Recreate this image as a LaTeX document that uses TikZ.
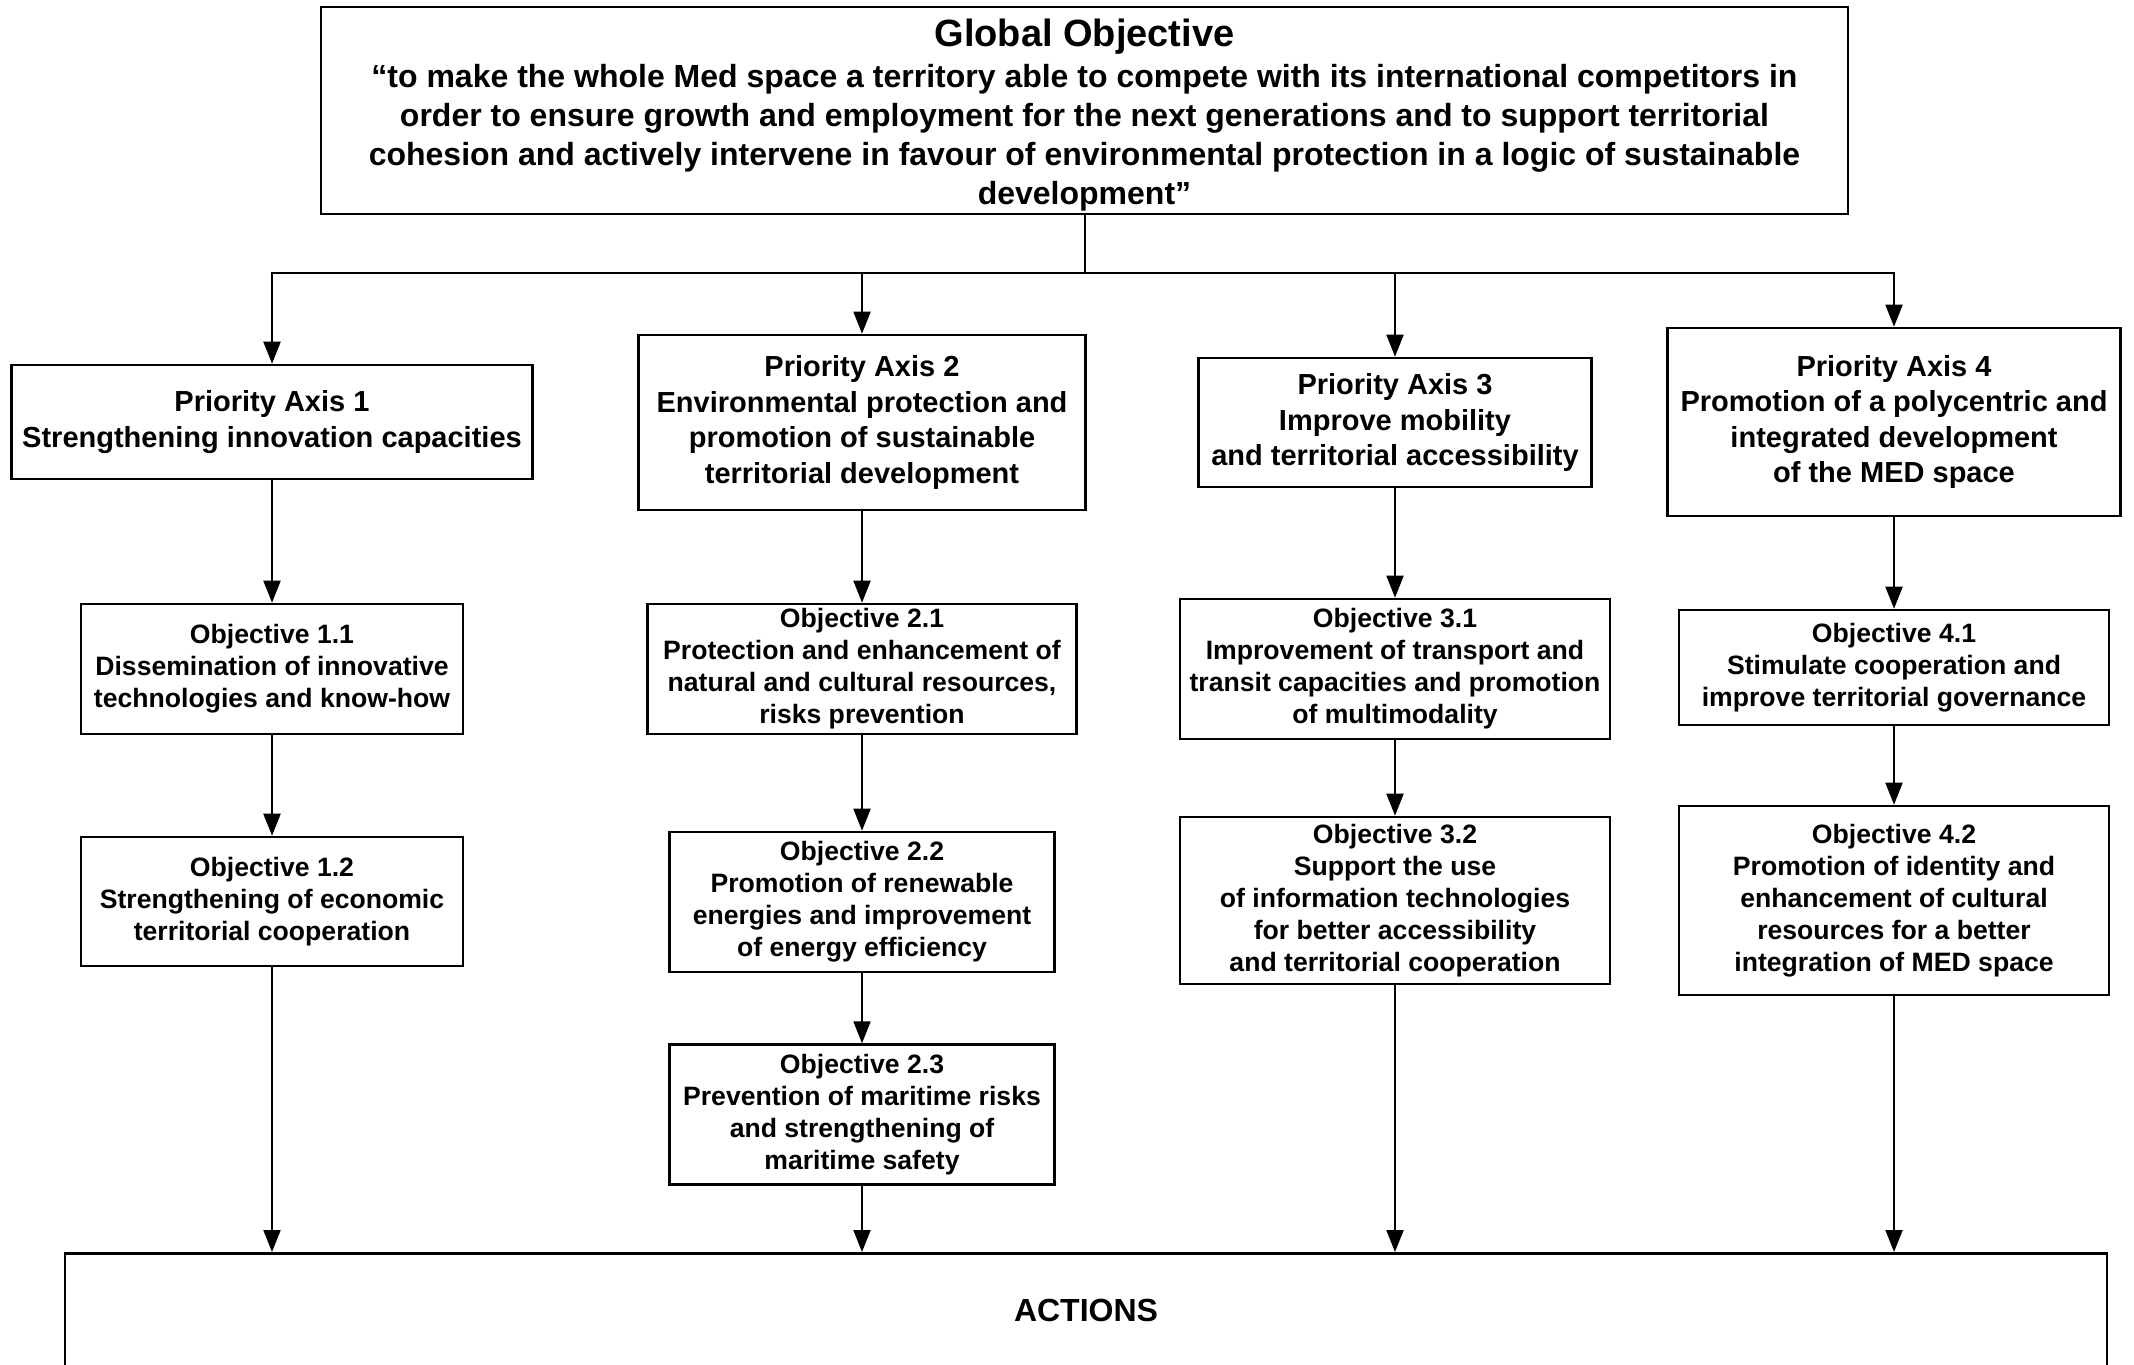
\documentclass[tikz,border=0pt]{standalone}
\usepackage{fontspec}
\setmainfont{Liberation Sans}
\usepackage{xcolor}
\usetikzlibrary{arrows.meta,positioning}
\definecolor{Ink}{HTML}{000000}
\definecolor{Paper}{HTML}{FFFFFF}
\tikzset{box/.style={rectangle,draw=Ink,line width=1.3pt,fill=Paper,align=center,inner sep=0pt,text=Ink},globalbox/.style={box,minimum width=763.5pt,minimum height=103.5pt,font=\bfseries\fontsize{16}{19.4}\selectfont},axisbox/.style={box,font=\bfseries\fontsize{14.5}{17.7}\selectfont},objbox/.style={box,font=\bfseries\fontsize{13.3}{16}\selectfont},actionsbox/.style={box,anchor=north,minimum width=1021pt,minimum height=57.5pt,font=\bfseries\fontsize{16}{19}\selectfont},flow/.style={draw=Ink,line width=1pt,-{Triangle[length=11pt,width=8.5pt]}},link/.style={draw=Ink,line width=1pt}}

\begin{document}
\begin{tikzpicture}[x=0.5pt,y=-0.5pt]
\useasboundingbox[fill=Paper] (0,0) rectangle (2134,1364);
\node[globalbox] (glob) at (1084.5,110.5) {{\fontsize{19}{23}\selectfont\rule{0pt}{18.3pt}Global Objective}\\[1pt]“to make the whole Med space a territory able to compete with its international competitors in\\order to ensure growth and employment for the next generations and to support territorial\\cohesion and actively intervene in favour of environmental protection in a logic of sustainable\\development”};
\node[axisbox,minimum width=260.5pt,minimum height=57pt] (pa1) at (272,422) {Priority Axis 1\\Strengthening innovation capacities};
\node[axisbox,minimum width=223.5pt,minimum height=87.5pt] (pa2) at (862,422.5) {Priority Axis 2\\Environmental protection and\\promotion of sustainable\\territorial development};
\node[axisbox,minimum width=196.5pt,minimum height=64.5pt] (pa3) at (1395,422.5) {Priority Axis 3\\Improve mobility\\and territorial accessibility};
\node[axisbox,minimum width=226.5pt,minimum height=94pt] (pa4) at (1894,422) {Priority Axis 4\\Promotion of a polycentric and\\integrated development\\of the MED space};
\node[objbox,minimum width=191pt,minimum height=65pt] (o11) at (272,669) {Objective 1.1\\Dissemination of innovative\\technologies and know-how};
\node[objbox,minimum width=191pt,minimum height=64.5pt,below=50.2pt of o11] (o12) {Objective 1.2\\Strengthening of economic\\territorial cooperation};
\node[objbox,minimum width=214.5pt,minimum height=65pt] (o21) at (862,669) {Objective 2.1\\Protection and enhancement of\\natural and cultural resources,\\risks prevention};
\node[objbox,minimum width=192.5pt,minimum height=70pt,below=47.7pt of o21] (o22) {Objective 2.2\\Promotion of renewable\\energies and improvement\\of energy efficiency};
\node[objbox,minimum width=192.5pt,minimum height=70pt,below=35pt of o22] (o23) {Objective 2.3\\Prevention of maritime risks\\and strengthening of\\maritime safety};
\node[objbox,minimum width=215pt,minimum height=70pt] (o31) at (1395,669) {Objective 3.1\\Improvement of transport and\\transit capacities and promotion\\of multimodality};
\node[objbox,minimum width=215pt,minimum height=83.5pt,below=37.7pt of o31] (o32) {Objective 3.2\\Support the use\\of information technologies\\for better accessibility\\and territorial cooperation};
\node[objbox,minimum width=215pt,minimum height=57.5pt] (o41) at (1894,667.5) {Objective 4.1\\Stimulate cooperation and\\improve territorial governance};
\node[objbox,minimum width=215pt,minimum height=94.5pt,below=39.2pt of o41] (o42) {Objective 4.2\\Promotion of identity and\\enhancement of cultural\\resources for a better\\integration of MED space};
\node[actionsbox] (act) at (1086,1252) {ACTIONS};
\path (glob.south) ++(0,58) coordinate (bus);
\draw[link] (glob) -- (bus);
\foreach \ax in {pa1,pa2,pa3,pa4} \draw[flow] (bus) -| (\ax);
\foreach \a/\b in {pa1/o11,o11/o12,pa2/o21,o21/o22,o22/o23,pa3/o31,o31/o32,pa4/o41,o41/o42} \draw[flow] (\a) -- (\b);
\foreach \c in {o12,o23,o32,o42} \draw[flow] (\c) -- (\c |- act.north);
\end{tikzpicture}
\end{document}
